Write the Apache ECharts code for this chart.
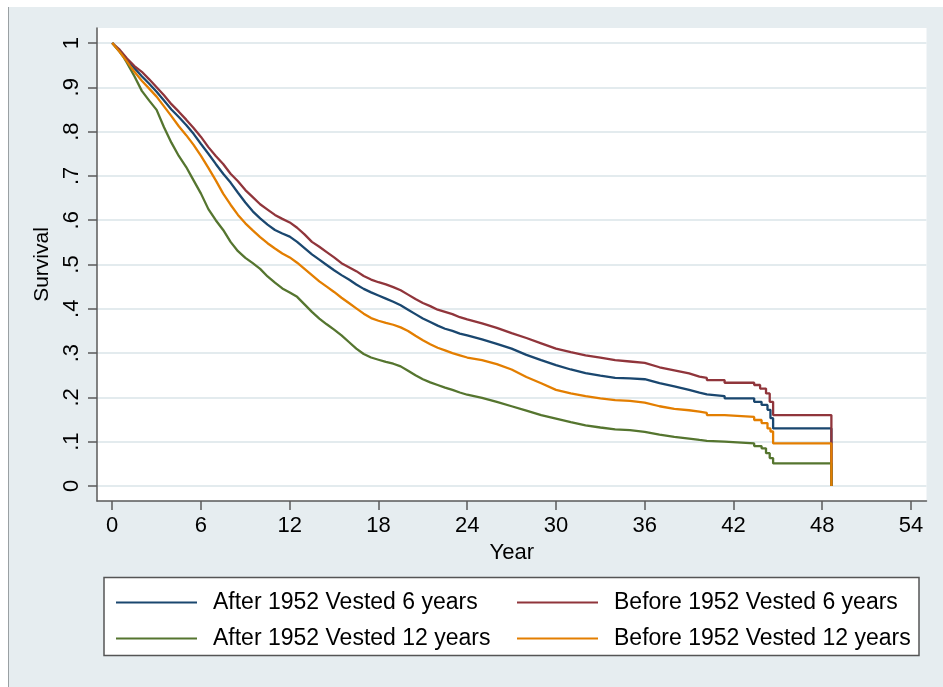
<!DOCTYPE html>
<html>
<head>
<meta charset="utf-8">
<script src="https://cdn.jsdelivr.net/npm/echarts@6/dist/echarts.min.js"></script>
<style>html,body{margin:0;padding:0;background:#fff;}#c{width:943px;height:687px;}</style>
</head>
<body>
<div id="c"></div>
<script>
// ---- data ----
const seriesNames = ['After 1952 Vested 6 years', 'Before 1952 Vested 6 years', 'After 1952 Vested 12 years', 'Before 1952 Vested 12 years'];
const xTicks = [0, 6, 12, 18, 24, 30, 36, 42, 48, 54];
const yTicks = [0, 0.1, 0.2, 0.3, 0.4, 0.5, 0.6, 0.7, 0.8, 0.9, 1];
const yTickLabels = ['0', '.1', '.2', '.3', '.4', '.5', '.6', '.7', '.8', '.9', '1'];

const after6 = [[0,1],[0.5,0.982],[1,0.962],[1.5,0.943],[2,0.925],[2.5,0.908],[3,0.89],[3.5,0.87],[4,0.85],[4.5,0.833],[5,0.815],[5.5,0.795],[6,0.772],[6.5,0.75],[7,0.727],[7.5,0.705],[8,0.685],[8.5,0.662],[9,0.64],[9.5,0.62],[10,0.604],[10.5,0.59],[11,0.578],[11.5,0.57],[12,0.563],[12.5,0.551],[13,0.537],[13.5,0.523],[14,0.511],[14.5,0.499],[15,0.487],[15.5,0.476],[16,0.466],[16.5,0.455],[17,0.445],[17.5,0.437],[18,0.43],[18.5,0.423],[19,0.416],[19.5,0.408],[20,0.398],[20.5,0.388],[21,0.378],[21.5,0.37],[22,0.362],[22.5,0.355],[23,0.35],[23.5,0.344],[24,0.34],[25,0.331],[26,0.321],[27,0.31],[28,0.296],[29,0.284],[30,0.273],[31,0.263],[32,0.255],[33,0.249],[34,0.244],[35,0.243],[36,0.241],[37,0.232],[38,0.225],[39,0.217],[39.7,0.211],[40.2,0.207],[40.2,0.203],[41.4,0.203],[41.4,0.198],[43.4,0.198],[43.4,0.19],[43.9,0.19],[43.9,0.183],[44.3,0.183],[44.3,0.172],[44.5,0.172],[44.5,0.153],[44.68,0.153],[44.68,0.13],[48.62,0.13],[48.62,0]];

const before6 = [[0,1],[0.5,0.985],[1,0.965],[1.5,0.948],[2,0.935],[2.5,0.918],[3,0.9],[3.5,0.882],[4,0.862],[4.5,0.845],[5,0.827],[5.5,0.808],[6,0.788],[6.5,0.765],[7,0.745],[7.5,0.727],[8,0.705],[8.5,0.688],[9,0.668],[9.5,0.652],[10,0.636],[10.5,0.624],[11,0.612],[11.5,0.603],[12,0.595],[12.5,0.583],[13,0.568],[13.5,0.551],[14,0.54],[14.5,0.528],[15,0.516],[15.5,0.503],[16,0.494],[16.5,0.485],[17,0.474],[17.5,0.466],[18,0.46],[18.5,0.455],[19,0.449],[19.5,0.442],[20,0.432],[20.5,0.422],[21,0.413],[21.5,0.406],[22,0.398],[22.5,0.393],[23,0.388],[23.5,0.381],[24,0.376],[25,0.367],[26,0.357],[27,0.345],[28,0.334],[29,0.322],[30,0.31],[31,0.302],[32,0.295],[33,0.29],[34,0.284],[35,0.281],[36,0.278],[37,0.268],[38,0.261],[39,0.254],[39.7,0.247],[40.2,0.244],[40.2,0.239],[41.4,0.239],[41.4,0.233],[43.4,0.233],[43.4,0.228],[43.8,0.228],[43.8,0.22],[44.2,0.22],[44.2,0.209],[44.45,0.209],[44.45,0.19],[44.68,0.19],[44.68,0.16],[48.62,0.16],[48.62,0]];

const after12 = [[0,1],[0.5,0.98],[0.75,0.969],[1,0.955],[1.5,0.925],[2,0.892],[2.5,0.87],[3,0.849],[3.5,0.81],[4,0.775],[4.5,0.745],[5,0.72],[5.5,0.69],[6,0.66],[6.5,0.625],[7,0.6],[7.5,0.578],[8,0.551],[8.5,0.53],[9,0.515],[9.5,0.503],[10,0.49],[10.5,0.473],[11,0.459],[11.5,0.446],[12,0.437],[12.5,0.427],[13,0.41],[13.5,0.393],[14,0.378],[14.5,0.365],[15,0.353],[15.5,0.34],[16,0.325],[16.5,0.31],[17,0.298],[17.5,0.29],[18,0.285],[18.5,0.28],[19,0.276],[19.5,0.27],[20,0.26],[20.5,0.25],[21,0.241],[21.5,0.234],[22,0.228],[22.5,0.222],[23,0.217],[23.5,0.211],[24,0.206],[25,0.199],[26,0.19],[27,0.18],[28,0.17],[29,0.16],[30,0.152],[31,0.144],[32,0.137],[33,0.132],[34,0.128],[35,0.126],[36,0.122],[37,0.116],[38,0.111],[39,0.107],[39.7,0.104],[40.2,0.102],[40.2,0.1],[41.4,0.1],[41.4,0.096],[43.4,0.096],[43.4,0.09],[43.9,0.09],[43.9,0.085],[44.2,0.085],[44.2,0.074],[44.45,0.074],[44.45,0.063],[44.68,0.063],[44.68,0.051],[48.62,0.051],[48.62,0]];

const before12 = [[0,1],[0.5,0.98],[1,0.958],[1.5,0.935],[2,0.915],[2.5,0.897],[3,0.879],[3.5,0.857],[4,0.835],[4.5,0.812],[5,0.792],[5.5,0.77],[6,0.745],[6.5,0.718],[7,0.69],[7.5,0.66],[8,0.635],[8.5,0.612],[9,0.593],[9.5,0.577],[10,0.562],[10.5,0.548],[11,0.536],[11.5,0.525],[12,0.516],[12.5,0.504],[13,0.49],[13.5,0.476],[14,0.462],[14.5,0.45],[15,0.438],[15.5,0.425],[16,0.413],[16.5,0.401],[17,0.389],[17.5,0.379],[18,0.373],[18.5,0.368],[19,0.364],[19.5,0.358],[20,0.35],[20.5,0.339],[21,0.329],[21.5,0.32],[22,0.312],[22.5,0.306],[23,0.3],[23.5,0.295],[24,0.29],[25,0.284],[26,0.275],[27,0.263],[28,0.246],[29,0.232],[30,0.217],[31,0.209],[32,0.203],[33,0.198],[34,0.194],[35,0.192],[36,0.188],[37,0.18],[38,0.174],[39,0.171],[39.7,0.168],[40.2,0.165],[40.2,0.16],[41.4,0.16],[41.4,0.156],[43.4,0.156],[43.4,0.149],[43.9,0.149],[43.9,0.142],[44.3,0.142],[44.3,0.13],[44.5,0.13],[44.5,0.123],[44.68,0.123],[44.68,0.096],[48.62,0.096],[48.62,0]];

const seriesData = [after6, before6, after12, before12];
const seriesColors = ['#1a476f', '#90353b', '#55752f', '#e37e00'];

// ---- chart ----
const FONT = 'Liberation Sans, Arial, Helvetica, sans-serif';
const chart = echarts.init(document.getElementById('c'), null, {renderer: 'canvas'});

const legendText = {fontSize: 23, color: '#000', fontFamily: FONT, padding: [0, 0, 0, 11], lineHeight: 22};

const option = {
  animation: false,
  backgroundColor: '#e6edf0',
  textStyle: {fontFamily: FONT},
  grid: {
    left: 97, right: 16.5, top: 28, bottom: 186,
    show: true, backgroundColor: '#ffffff', borderWidth: 0,
    outerBoundsMode: 'none'
  },
  xAxis: {
    type: 'value', min: -1.03, max: 55.05,
    name: 'Year', nameLocation: 'middle', nameGap: 37,
    nameTextStyle: {fontSize: 22, color: '#000', fontFamily: FONT},
    axisLine: {show: true, onZero: false, lineStyle: {color: '#5a5a5a', width: 1.5}},
    axisTick: {show: true, length: 9, customValues: xTicks, lineStyle: {color: '#5a5a5a', width: 1.5}},
    axisLabel: {customValues: xTicks, fontSize: 22, color: '#000', margin: 14, fontFamily: FONT},
    splitLine: {show: false}
  },
  yAxis: {
    type: 'value', min: -0.0339, max: 1.0339,
    name: 'Survival', nameLocation: 'middle', nameGap: 34, nameRotate: 90,
    nameTextStyle: {fontSize: 21, color: '#000', fontFamily: FONT},
    axisLine: {show: true, onZero: false, lineStyle: {color: '#5a5a5a', width: 1.5}},
    axisTick: {show: true, length: 9, customValues: yTicks, lineStyle: {color: '#5a5a5a', width: 1.5}},
    axisLabel: {
      customValues: yTicks, rotate: 90, fontSize: 22, color: '#000', margin: 14, fontFamily: FONT,
      formatter: function (v) {
        const i = yTicks.findIndex(t => Math.abs(t - v) < 1e-6);
        return i >= 0 ? yTickLabels[i] : '';
      }
    },
    splitLine: {show: true, lineStyle: {color: '#e3ebee', width: 2}}
  },
  legend: [
    {
      left: 116, top: 591, orient: 'vertical', itemGap: 13, padding: 0,
      data: [seriesNames[0], seriesNames[2]],
      icon: 'rect', itemWidth: 81, itemHeight: 2,
      textStyle: legendText
    },
    {
      left: 517, top: 591, orient: 'vertical', itemGap: 13, padding: 0,
      data: [seriesNames[1], seriesNames[3]],
      icon: 'rect', itemWidth: 81, itemHeight: 2,
      textStyle: legendText
    }
  ],
  graphic: [
    {type: 'rect', z: 100, shape: {x: 0, y: 0, width: 943, height: 7}, style: {fill: '#ffffff'}},
    {type: 'rect', z: 100, shape: {x: 0, y: 0, width: 8, height: 687}, style: {fill: '#ffffff'}},
    {type: 'line', z: 100, shape: {x1: 8.5, y1: 7, x2: 8.5, y2: 687}, style: {stroke: '#9aa0a3', lineWidth: 1}},
    {type: 'rect', z: 1, shape: {x: 104, y: 577.5, width: 815, height: 78}, style: {fill: '#ffffff', stroke: '#555555', lineWidth: 1.5}}
  ],
  series: seriesData.map((d, i) => ({
    name: seriesNames[i],
    type: 'line',
    data: d,
    showSymbol: false,
    symbol: 'none',
    clip: false,
    color: seriesColors[i],
    lineStyle: {color: seriesColors[i], width: 2.3},
    itemStyle: {color: seriesColors[i]},
    emphasis: {disabled: true}
  }))
};
chart.setOption(option);
</script>
</body>
</html>
